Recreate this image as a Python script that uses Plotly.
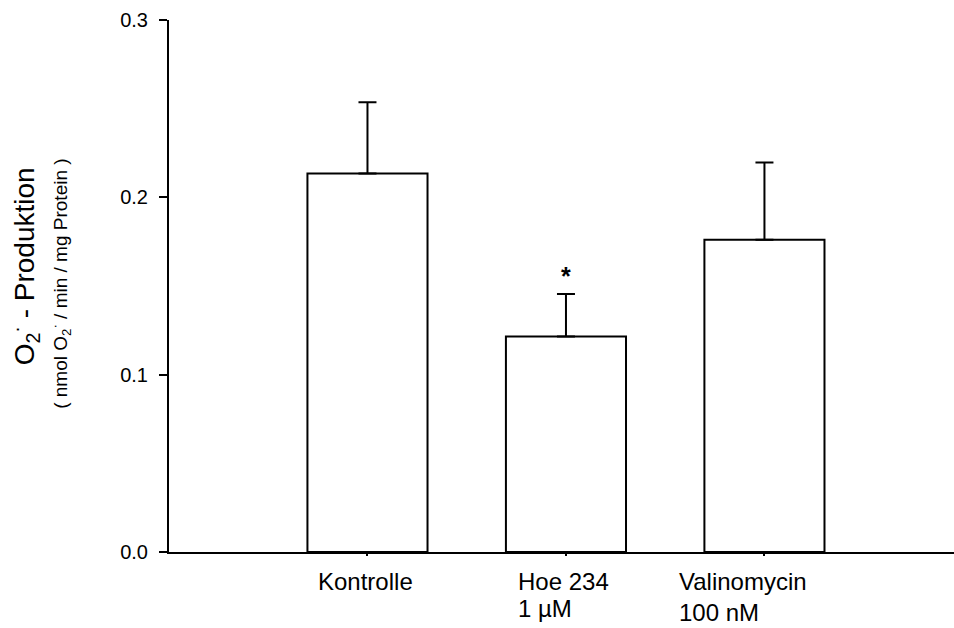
import plotly.graph_objects as go

categories = ["Kontrolle", "Hoe 234", "Valinomycin"]
sublabels = ["", "1 µM", "100 nM"]
values = [0.2134, 0.1215, 0.1761]
errors = [0.0402, 0.0240, 0.0436]
y_ticks = [0.0, 0.1, 0.2, 0.3]
sig_marks = ["", "*", ""]

FONT = "Arial, Liberation Sans, sans-serif"
x_idx = list(range(len(categories)))

fig = go.Figure()
fig.add_trace(go.Bar(
    x=x_idx, y=values, width=0.605,
    marker=dict(color="white", line=dict(color="black", width=2)),
    error_y=dict(type="data", array=errors, arrayminus=[0] * len(errors),
                 symmetric=False, color="black", thickness=2, width=9),
    showlegend=False, hoverinfo="skip",
))

label_offsets = [-0.257, -0.25, -0.44]
sub_shift = [0, -56, -60]
for i, (cat, sub) in enumerate(zip(categories, sublabels)):
    fig.add_annotation(x=i + label_offsets[i], y=0, xref="x", yref="paper",
                       text=cat, showarrow=False, xanchor="left", yanchor="middle",
                       yshift=-29, font=dict(family=FONT, size=24, color="black"))
    if sub:
        fig.add_annotation(x=i + label_offsets[i], y=0, xref="x", yref="paper",
                           text=sub, showarrow=False, xanchor="left", yanchor="middle",
                           yshift=sub_shift[i], font=dict(family=FONT, size=24, color="black"))

for i, m in enumerate(sig_marks):
    if m:
        fig.add_annotation(x=i, y=values[i] + errors[i], xref="x", yref="y",
                           text="<b>" + m + "</b>", showarrow=False, xanchor="center",
                           yanchor="middle", yshift=18,
                           font=dict(family=FONT, size=25, color="black"))

plot_w = 954 - 169
fig.add_annotation(x=(25 - 169) / plot_w, y=0.537, xref="paper", yref="paper",
                   text="O<sub>2</sub><sup>·</sup> - Produktion", textangle=-90,
                   showarrow=False, xanchor="center", yanchor="middle",
                   font=dict(family=FONT, size=28, color="black"))
fig.add_annotation(x=(61 - 169) / plot_w, y=0.504, xref="paper", yref="paper",
                   text="( nmol O<sub>2</sub><sup>·</sup> / min / mg Protein )", textangle=-90,
                   showarrow=False, xanchor="center", yanchor="middle",
                   font=dict(family=FONT, size=19, color="black"))

fig.update_layout(
    width=954, height=628,
    margin=dict(l=169, r=0, t=20, b=76),
    paper_bgcolor="white", plot_bgcolor="white",
    font=dict(family=FONT, size=20, color="black"),
    xaxis=dict(range=[-1, 2.955], showline=True, linecolor="black", linewidth=2,
               tickmode="array", tickvals=x_idx, ticktext=["", "", ""],
               ticks="outside", ticklen=2, tickwidth=2, tickcolor="black",
               showgrid=False, zeroline=False),
    yaxis=dict(range=[0, 0.3], showline=True, linecolor="black", linewidth=2,
               tickmode="array", tickvals=y_ticks, ticktext=[f"{v:.1f}" for v in y_ticks],
               ticks="outside", ticklen=8, tickwidth=2, tickcolor="black",
               ticklabelstandoff=7,
               showgrid=False, zeroline=False, tickfont=dict(family=FONT, size=20)),
)

fig.write_html("out.html", config={"displayModeBar": False, "staticPlot": True})

with open("out.html", "r", encoding="utf-8") as f:
    html = f.read()
html = html.replace("<body>", '<body style="margin:0;overflow:hidden">', 1)
with open("out.html", "w", encoding="utf-8") as f:
    f.write(html)
